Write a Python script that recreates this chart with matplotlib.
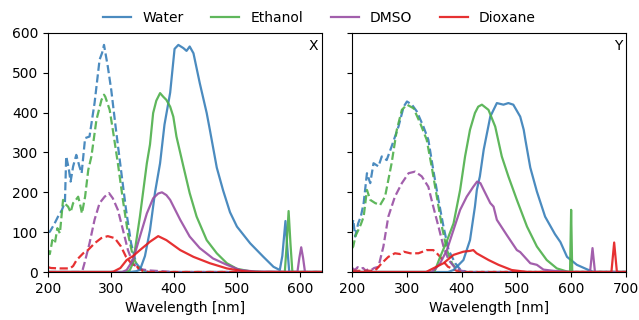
import numpy as np
import matplotlib
matplotlib.use("Agg")
import matplotlib.pyplot as plt

solvents = ["Water", "Ethanol", "DMSO", "Dioxane"]
colors = ["#377eb8", "#4daf4a", "#984ea3", "#e41a1c"]

# ---- panel X : excitation (dashed) ----
x_water_ex_wl = [200, 203, 210, 216, 222, 227, 229, 233, 236, 240, 245, 250, 253.5, 259, 266, 274, 282, 286, 289, 295, 300.5, 308, 316, 324, 332, 340, 350, 360, 635]
x_water_ex = [100, 101, 120, 139, 155, 175, 290, 260, 227, 265, 294, 265, 248, 336, 340, 424, 533, 550, 570, 516, 457, 357, 256, 156, 72, 22, 3, 0, 0]
x_ethanol_ex_wl = [200, 203, 207, 211, 215, 219, 224, 228, 232, 236, 240, 244, 248, 251, 254, 259, 264, 269, 277, 285, 289, 291, 298, 303, 311, 319, 327, 335, 343, 352, 360, 635]
x_ethanol_ex = [55, 45, 80, 72, 110, 97, 181, 170, 164, 150, 173, 180, 189, 170, 147, 189, 256, 290, 382, 432, 445, 440, 407, 357, 273, 181, 97, 38, 13, 3, 0, 0]
x_dmso_ex_wl = [200, 250, 255, 258, 266, 274, 282, 290, 297, 303, 311, 319, 327, 335, 343, 360, 380, 400, 635]
x_dmso_ex = [0, 0, 5, 22, 72, 131, 173, 189, 198, 185, 156, 106, 55, 22, 8, 4, 2, 0, 0]
x_dioxane_ex_wl = [200, 205, 219, 235, 240, 245.5, 256, 263.5, 274, 284.6, 295, 306, 316, 324, 332, 336, 339, 343, 350, 360, 635]
x_dioxane_ex = [12, 10, 9, 9, 15, 30, 47, 55, 72, 85, 90, 85, 64, 38, 22, 18, 20, 10, 3, 0, 0]

# ---- panel X : emission (solid) ----
x_water_em_wl = [200, 330, 340, 346, 354, 362, 370, 378, 385, 394, 401, 407, 415, 420, 425, 431, 441, 452, 457, 468, 478, 489, 500, 521, 542, 558, 568, 572, 577, 580, 583, 635]
x_water_em = [0, 0, 2, 5, 40, 105, 200, 273, 370, 450, 560, 570, 562, 555, 566, 549, 474, 399, 357, 262, 205, 150, 114, 72, 38, 13, 5, 40, 128, 60, 0, 0]
x_ethanol_em_wl = [200, 325, 330, 335, 346, 357, 362, 367, 372, 378, 383, 388, 394, 399, 404, 415, 425, 436, 452, 468, 484, 500, 520, 540, 576, 579, 582, 585, 588, 635]
x_ethanol_em = [0, 0, 5, 22, 139, 273, 320, 399, 430, 449, 440, 432, 415, 390, 340, 265, 198, 139, 80, 47, 22, 8, 2, 0, 0, 70, 153, 70, 0, 0]
x_dmso_em_wl = [200, 318, 325, 335, 346, 357, 367, 375, 381, 388, 394, 410, 425, 441, 462, 484, 505, 530, 596, 599, 602, 605, 608, 635]
x_dmso_em = [0, 0, 5, 30, 89, 147, 185, 197, 200, 193, 181, 131, 89, 60, 34, 18, 5, 1, 0, 35, 62, 35, 0, 0]
x_dioxane_em_wl = [200, 300, 304, 315, 320, 325, 335, 346, 362, 375, 388, 410, 431, 457, 484, 510, 530, 635]
x_dioxane_em = [0, 0, 1, 10, 20, 30, 40, 55, 76, 90, 80, 55, 38, 22, 9, 2, 0, 0]

# ---- panel Y : excitation (dashed) ----
y_water_ex_wl = [200, 202, 205.5, 211, 216, 221, 227, 233, 239, 248, 254, 263, 272, 284.5, 294, 300, 309, 318, 330, 339, 348, 357.5, 366.6, 376, 388, 398, 410, 700]
y_water_ex = [110, 131, 89, 122, 140, 173, 248, 223, 273, 265, 290, 281, 315, 365, 415, 428, 420, 403, 365, 332, 256, 181, 114, 55, 22, 5, 0, 0]
y_ethanol_ex_wl = [200, 202, 206, 211.5, 216, 221, 227, 233, 242, 251, 260, 272, 281.5, 290.7, 300, 312, 324, 336, 345, 354.5, 363.7, 373, 382, 392, 400, 700]
y_ethanol_ex = [60, 64, 90, 106, 120, 139, 206, 181, 173, 168, 189, 273, 357, 407, 420, 411, 374, 332, 265, 189, 114, 55, 22, 5, 0, 0]
y_dmso_ex_wl = [200, 205, 210, 215, 220, 225, 230, 235, 240, 248, 257, 266, 278, 290.7, 303, 315, 327, 339, 348, 357.5, 366.6, 376, 388, 400, 410, 700]
y_dmso_ex = [10, 5, 12, 8, 10, 3, 8, 5, 10, 13, 64, 139, 189, 223, 248, 252, 240, 214, 164, 114, 64, 30, 10, 3, 0, 0]
y_dioxane_ex_wl = [200, 240, 245, 254, 266, 278, 287.6, 294, 306, 321, 336, 348, 354.5, 360.6, 366.6, 375, 382, 395, 700]
y_dioxane_ex = [3, 3, 8, 22, 38, 47, 45, 51, 47, 47, 55, 55, 47, 38, 26, 13, 9, 0, 0]

# ---- panel Y : emission (solid) ----
y_water_em_wl = [200, 375, 385, 403, 415, 424, 427.5, 433, 440, 452, 464, 476, 485, 494, 506.6, 513, 516, 525, 537, 552, 570, 580, 592, 610, 628, 640, 700]
y_water_em = [0, 0, 5, 30, 80, 164, 206, 240, 307, 390, 424, 420, 424, 420, 390, 357, 332, 262, 202, 139, 95, 75, 38, 18, 7, 0, 0]
y_ethanol_em_wl = [200, 350, 360.6, 372, 385, 397, 406, 415, 424, 430, 436.7, 448.7, 461, 473, 485, 500.5, 519, 537, 555, 573.5, 590, 597.5, 599.5, 601.5, 603, 700]
y_ethanol_em = [0, 0, 38, 75, 122, 206, 290, 357, 399, 415, 420, 407, 365, 290, 240, 181, 114, 64, 30, 9, 2, 0, 156, 0, 0, 0]
y_dmso_em_wl = [200, 345, 352, 360.6, 372.8, 385, 397, 409, 421, 428, 434, 440, 452, 458, 464, 482, 500.5, 506.6, 525, 537, 549, 567, 600, 634, 638.5, 643, 700]
y_dmso_em = [0, 0, 8, 22, 55, 106, 156, 189, 214, 227, 223, 206, 173, 164, 131, 93, 55, 50, 22, 18, 6, 3, 0, 0, 60, 0, 0]
y_dioxane_em_wl = [200, 335, 342, 366.6, 385, 403, 415, 421, 427, 449, 467, 491, 520, 673, 678, 683, 700]
y_dioxane_em = [0, 0, 5, 22, 43, 51, 53, 55, 47, 30, 18, 5, 0, 0, 74, 0, 0]

panel_x_ex = [(x_water_ex_wl, x_water_ex), (x_ethanol_ex_wl, x_ethanol_ex), (x_dmso_ex_wl, x_dmso_ex), (x_dioxane_ex_wl, x_dioxane_ex)]
panel_x_em = [(x_water_em_wl, x_water_em), (x_ethanol_em_wl, x_ethanol_em), (x_dmso_em_wl, x_dmso_em), (x_dioxane_em_wl, x_dioxane_em)]
panel_y_ex = [(y_water_ex_wl, y_water_ex), (y_ethanol_ex_wl, y_ethanol_ex), (y_dmso_ex_wl, y_dmso_ex), (y_dioxane_ex_wl, y_dioxane_ex)]
panel_y_em = [(y_water_em_wl, y_water_em), (y_ethanol_em_wl, y_ethanol_em), (y_dmso_em_wl, y_dmso_em), (y_dioxane_em_wl, y_dioxane_em)]

fig, axes = plt.subplots(1, 2, figsize=(6.39, 3.2), dpi=100, sharey=True)
fig.subplots_adjust(left=0.075, right=0.98, bottom=0.15, top=0.897, wspace=0.11)

panels = [(axes[0], panel_x_ex, panel_x_em, (200, 635), "X"),
          (axes[1], panel_y_ex, panel_y_em, (200, 700), "Y")]

for ax, ex, em, xlim, tag in panels:
    for (wl, v), c in zip(ex, colors):
        ax.plot(wl, v, "--", color=c, lw=1.6, alpha=0.9)
    for (wl, v), c, name in zip(em, colors, solvents):
        ax.plot(wl, v, "-", color=c, lw=1.6, alpha=0.9, label=name)
    ax.set_xlim(*xlim)
    ax.set_ylim(0, 600)
    ax.set_xlabel("Wavelength [nm]")
    ax.text(0.985, 0.975, tag, transform=ax.transAxes, ha="right", va="top", fontsize=10)

axes[0].set_yticks(np.arange(0, 601, 100))
axes[0].set_xticks([200, 300, 400, 500, 600])
axes[1].set_xticks([200, 300, 400, 500, 600, 700])

handles, labels = axes[0].get_legend_handles_labels()
fig.legend(handles, labels, loc="upper center", ncol=4, frameon=False, bbox_to_anchor=(0.5, 1.005))

plt.savefig("out.png")
